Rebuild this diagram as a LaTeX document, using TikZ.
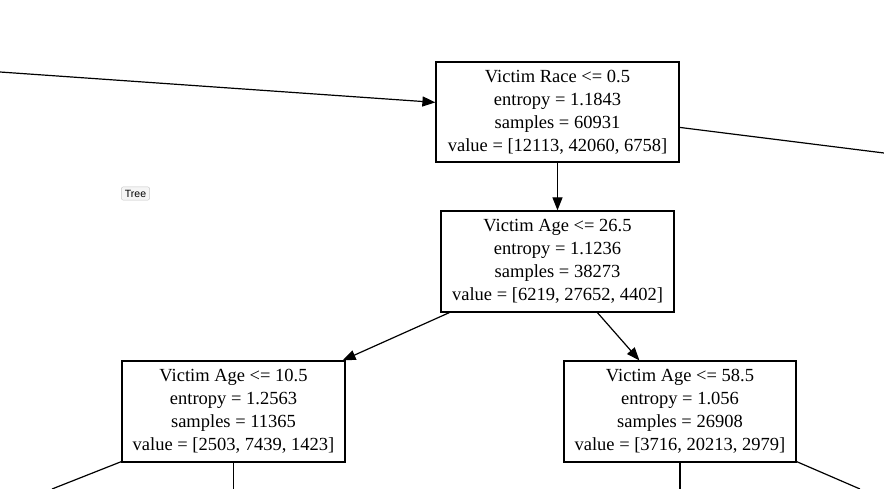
\documentclass[tikz,border=0pt]{standalone}
\usepackage{fontspec}
\setmainfont{Liberation Serif}
\newfontfamily\btnfont{Liberation Sans}
\usetikzlibrary{arrows.meta}
\begin{document}
\begin{tikzpicture}[x=1pt,y=-1pt,
  treebox/.style={draw, line width=1.2pt, fill=white, inner sep=0pt, align=center,
    font=\fontsize{18.5}{23}\selectfont},
  edge/.style={line width=1.2pt},
  arr/.style={edge, -{Triangle[length=13pt,width=10pt]}}]
\useasboundingbox[fill=white] (0,0) rectangle (884,489);
\node[treebox, minimum width=243pt, minimum height=100pt] (root) at (557.5,112)
  {Victim Race <= 0.5\\entropy = 1.1843\\samples = 60931\\value = [12113, 42060, 6758]};
\node[treebox, minimum width=233pt, minimum height=101pt] (age1) at (557.5,261.5)
  {Victim Age <= 26.5\\entropy = 1.1236\\samples = 38273\\value = [6219, 27652, 4402]};
\node[treebox, minimum width=223pt, minimum height=101pt] (left) at (233.5,411.5)
  {Victim Age <= 10.5\\entropy = 1.2563\\samples = 11365\\value = [2503, 7439, 1423]};
\node[treebox, minimum width=232pt, minimum height=101pt] (right) at (680,411.5)
  {Victim Age <= 58.5\\entropy = 1.056\\samples = 26908\\value = [3716, 20213, 2979]};
\node[draw=gray!45, fill=gray!8, rounded corners=2pt, inner xsep=3.5pt, inner ysep=3pt,
  font=\btnfont\fontsize{10.5}{12}\selectfont] (btn) at (135.5,193.5) {Tree};
\coordinate (inL) at (0,72);
\coordinate (outR) at (884,153);
\coordinate (b1) at (52,489);
\coordinate (b2) at (233.5,489);
\coordinate (b3) at (680,489);
\coordinate (b4) at (860,489);
\draw[arr] (inL) -- ([yshift=-41pt]root.north west);
\draw[edge] ([yshift=-66pt]root.north east) -- (outR);
\draw[arr] (root.south) -- (age1.north);
\draw[arr] ([xshift=9pt]age1.south west) -- ([xshift=-3pt]left.north east);
\draw[arr] ([xshift=157pt]age1.south west) -- ([xshift=76pt]right.north west);
\draw[edge] ([yshift=1pt]left.south west) -- (b1);
\draw[edge] (left.south) -- (b2);
\draw[edge] (right.south) -- (b3);
\draw[edge] ([yshift=1pt]right.south east) -- (b4);
\end{tikzpicture}
\end{document}
